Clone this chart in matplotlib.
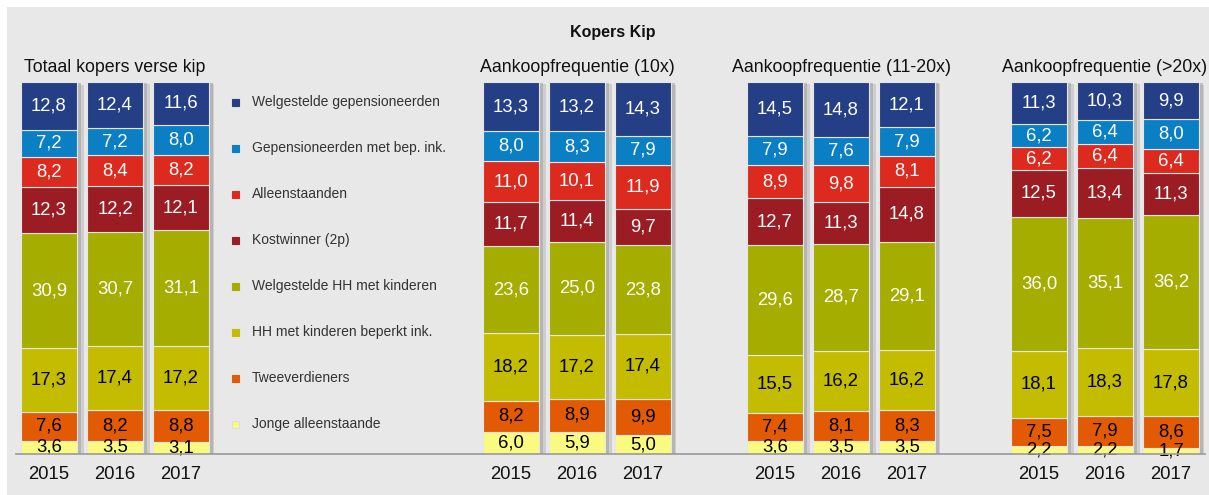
import matplotlib.pyplot as plt
from matplotlib.patches import Rectangle
import numpy as np

plt.rcParams['font.family'] = ['Liberation Sans', 'DejaVu Sans']

years = ["2015", "2016", "2017"]
segments = [
    "Welgestelde gepensioneerden",
    "Gepensioneerden met bep. ink.",
    "Alleenstaanden",
    "Kostwinner (2p)",
    "Welgestelde HH met kinderen",
    "HH met kinderen beperkt ink.",
    "Tweeverdieners",
    "Jonge alleenstaande",
]
colors = ["#253f86", "#0a7fc4", "#dc2a1e", "#9b1c22",
          "#a5ad00", "#c4bc00", "#e35a05", "#f8fb80"]
text_colors = ["white", "white", "white", "white", "white", "black", "black", "black"]

group_titles = ["Totaal kopers verse kip", "Aankoopfrequentie (10x)",
                "Aankoopfrequentie (11-20x)", "Aankoopfrequentie (>20x)"]

# values per year, top segment first
totaal = [
    [12.8, 7.2, 8.2, 12.3, 30.9, 17.3, 7.6, 3.6],
    [12.4, 7.2, 8.4, 12.2, 30.7, 17.4, 8.2, 3.5],
    [11.6, 8.0, 8.2, 12.1, 31.1, 17.2, 8.8, 3.1],
]
freq_10 = [
    [13.3, 8.0, 11.0, 11.7, 23.6, 18.2, 8.2, 6.0],
    [13.2, 8.3, 10.1, 11.4, 25.0, 17.2, 8.9, 5.9],
    [14.3, 7.9, 11.9, 9.7, 23.8, 17.4, 9.9, 5.0],
]
freq_11_20 = [
    [14.5, 7.9, 8.9, 12.7, 29.6, 15.5, 7.4, 3.6],
    [14.8, 7.6, 9.8, 11.3, 28.7, 16.2, 8.1, 3.5],
    [12.1, 7.9, 8.1, 14.8, 29.1, 16.2, 8.3, 3.5],
]
freq_20 = [
    [11.3, 6.2, 6.2, 12.5, 36.0, 18.1, 7.5, 2.2],
    [10.3, 6.4, 6.4, 13.4, 35.1, 18.3, 7.9, 2.2],
    [9.9, 8.0, 6.4, 11.3, 36.2, 17.8, 8.6, 1.7],
]
groups = [totaal, freq_10, freq_11_20, freq_20]

W, H = 1209, 495
fig = plt.figure(figsize=(W / 100, H / 100), dpi=100)
fig.patch.set_facecolor("white")
fig.patches.append(Rectangle((7 / W, 0), 1 - 7 / W, 1 - 7 / H, transform=fig.transFigure,
                             facecolor="#e8e8e8", edgecolor="none", zorder=-10))

# baseline across the whole chart
fig.add_artist(plt.Line2D([16 / W, 1205 / W], [1 - 454 / H] * 2, color="#9a9a9a", lw=1.2))

fig.text(613 / W, 1 - 33 / H, "Kopers Kip", ha="center", va="center",
         fontsize=11.5, fontweight="bold", color="#111111")

group_left = [16, 478, 742, 1006]
ax_w = 198
bottom = 1 - 454 / H
height = 372 / H
bw = 56 / 66

for g, data in enumerate(groups):
    ax = fig.add_axes([group_left[g] / W, bottom, ax_w / W, height])
    ax.set_xlim(-0.5, 2.5)
    ax.set_ylim(0, 100)
    ax.axis("off")
    x = np.arange(len(years))
    vals = np.array(data)  # year x segment
    # shadow on the right of each bar
    for i in range(len(years)):
        tot = vals[i].sum()
        ax.bar(x[i] + 0.11, tot - 0.6, bottom=0, width=bw, color="#bdbdbd", alpha=0.6,
               zorder=1, linewidth=0)
        ax.bar(x[i] + 0.06, tot - 0.3, bottom=0, width=bw, color="#a3a3a3", alpha=0.6,
               zorder=1, linewidth=0)
    base = np.zeros(len(years))
    for s in range(len(segments) - 1, -1, -1):
        v = vals[:, s]
        ax.bar(x, v, bottom=base, width=bw, color=colors[s], edgecolor="#e6e6e6",
               linewidth=0.8, zorder=2)
        for i in range(len(years)):
            ax.text(x[i], base[i] + v[i] / 2, f"{v[i]:.1f}".replace(".", ","),
                    ha="center", va="center", fontsize=13.3, color=text_colors[s], zorder=3)
        base = base + v
    ax.text(1, 104, group_titles[g], ha="center", va="center", fontsize=12.8,
            color="#111111", clip_on=False)
    for i in range(len(years)):
        ax.text(x[i], -5.6, years[i], ha="center", va="center", fontsize=13.3,
                color="#111111", clip_on=False)

# legend
leg_top = 102
leg_step = 46
for s, name in enumerate(segments):
    y = 1 - (leg_top + s * leg_step) / H
    fig.patches.append(Rectangle((232 / W, y - 3.5 / H), 7 / W, 7 / H, transform=fig.transFigure,
                                 facecolor=colors[s],
                                 edgecolor="#dddddd" if s == 7 else colors[s], lw=0.8))
    fig.text(252 / W, y, name, ha="left", va="center", fontsize=10, color="#333333")

fig.savefig("out.png", dpi=100)
